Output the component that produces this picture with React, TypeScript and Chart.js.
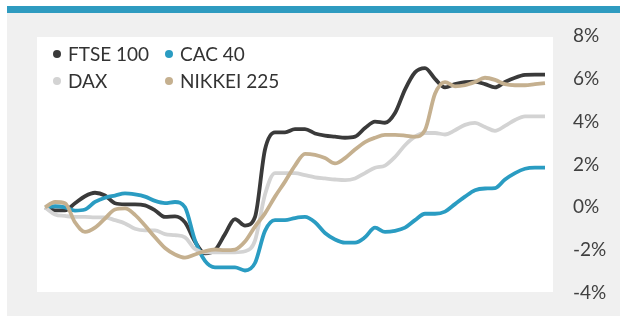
import React, { useEffect, useRef } from "react";
import { Chart, registerables } from "chart.js";

Chart.register(...registerables);

const categories = [
  "1", "2", "3", "4", "5", "6", "7", "8", "9", "10",
  "11", "12", "13", "14", "15", "16", "17", "18", "19", "20",
  "21", "22", "23", "24", "25", "26", "27", "28", "29", "30",
  "31", "32", "33", "34", "35", "36", "37", "38", "39", "40",
  "41", "42", "43", "44", "45", "46", "47", "48", "49", "50", "51",
];

const ftse = [
  0, -0.14, -0.14, 0.19, 0.52, 0.68, 0.55, 0.19, 0.14, 0.14,
  0.09, -0.14, -0.45, -0.42, -0.7, -1.6, -2.15, -2.0, -1.25, -0.55,
  -0.85, -0.45, 2.7, 3.5, 3.5, 3.65, 3.65, 3.45, 3.35, 3.3,
  3.25, 3.3, 3.7, 4.0, 3.95, 4.4, 5.5, 6.3, 6.5, 6.0,
  5.6, 5.75, 5.85, 5.87, 5.75, 5.6, 5.85, 6.05, 6.18, 6.2, 6.2,
];

const cac = [
  0, 0.05, 0.0, -0.15, -0.1, 0.25, 0.45, 0.55, 0.65, 0.6,
  0.5, 0.3, 0.2, 0.25, 0.0, -1.55, -2.5, -2.8, -2.8, -2.8,
  -2.95, -2.6, -1.1, -0.6, -0.6, -0.5, -0.45, -0.7, -1.2, -1.5,
  -1.65, -1.65, -1.4, -0.95, -1.15, -1.1, -0.95, -0.6, -0.3, -0.3,
  -0.2, 0.15, 0.5, 0.8, 0.88, 0.9, 1.3, 1.6, 1.8, 1.85, 1.85,
];

const dax = [
  0, -0.33, -0.4, -0.45, -0.45, -0.47, -0.47, -0.6, -0.75, -1.0,
  -1.08, -1.08, -1.25, -1.3, -1.4, -1.95, -2.1, -2.1, -2.1, -2.1,
  -2.05, -1.55, 0.6, 1.6, 1.6, 1.6, 1.5, 1.4, 1.35, 1.3,
  1.27, 1.35, 1.6, 1.85, 1.95, 2.35, 2.9, 3.3, 3.47, 3.47,
  3.4, 3.6, 3.85, 3.94, 3.75, 3.57, 3.8, 4.08, 4.25, 4.25, 4.25,
];

const nikkei = [
  0, 0.25, 0.19, -0.7, -1.15, -0.95, -0.52, -0.1, -0.05, -0.35,
  -0.85, -1.4, -1.9, -2.2, -2.35, -2.2, -2.05, -1.97, -2.0, -1.97,
  -1.6, -0.9, -0.28, 0.5, 1.2, 1.95, 2.5, 2.45, 2.3, 2.05,
  2.3, 2.7, 3.05, 3.25, 3.38, 3.38, 3.35, 3.3, 3.6, 5.3,
  5.85, 5.65, 5.7, 5.85, 6.05, 5.95, 5.75, 5.7, 5.7, 5.75, 5.8,
];

const seriesNames = ["FTSE 100", "CAC 40", "DAX", "NIKKEI 225"];
const seriesColors = ["#3a3a3a", "#2a9cc2", "#d3d3d3", "#c5b08f"];
const seriesData = [ftse, cac, dax, nikkei];

const yMin = -4;
const yMax = 8;
const yStep = 2;

const FONT = "Lato, 'Open Sans', sans-serif";

export default function App() {
  const canvasRef = useRef<HTMLCanvasElement | null>(null);

  useEffect(() => {
    const canvas = canvasRef.current;
    if (!canvas) return;
    const chart = new Chart(canvas, {
      type: "line",
      data: {
        labels: categories,
        datasets: seriesNames.map((name, i) => ({
          label: name,
          data: seriesData[i],
          borderColor: seriesColors[i],
          backgroundColor: seriesColors[i],
          borderWidth: 3.8,
          pointRadius: 0,
          pointHoverRadius: 0,
          cubicInterpolationMode: "monotone" as const,
          fill: false,
          order: seriesNames.length - i,
        })),
      },
      options: {
        responsive: false,
        animation: false,
        layout: { padding: { left: 45, top: 36, bottom: 23, right: 0 } },
        plugins: {
          legend: { display: false },
          tooltip: { enabled: false },
        },
        scales: {
          x: {
            display: false,
            offset: false,
          },
          y: {
            position: "right",
            min: yMin,
            max: yMax,
            grid: { display: false, drawTicks: true, tickLength: 28 },
            border: { display: false },
            afterFit: (scale: any) => {
              scale.width = 75;
            },
            ticks: {
              stepSize: yStep,
              padding: 0,
              color: "#404040",
              font: { family: FONT, size: 19 },
              callback: (v: any) => `${v}%`,
            },
          },
        },
      },
    });
    return () => chart.destroy();
  }, []);

  return (
    <div
      style={{
        position: "absolute",
        left: 0,
        top: 0,
        width: 620,
        height: 316,
        background: "#ffffff",
        overflow: "hidden",
        fontFamily: FONT,
      }}
    >
      <div
        style={{
          position: "absolute",
          left: 7,
          top: 13,
          width: 613,
          height: 303,
          background: "#f0f0f0",
        }}
      />
      <div
        style={{
          position: "absolute",
          left: 7,
          top: 6,
          width: 613,
          height: 7,
          background: "#2e9bc0",
        }}
      />
      <div
        style={{
          position: "absolute",
          left: 37,
          top: 37,
          width: 516,
          height: 255,
          background: "#ffffff",
        }}
      />
      <canvas
        ref={canvasRef}
        width={620}
        height={316}
        style={{ position: "absolute", left: 0, top: 0, width: 620, height: 316 }}
      />
      <div
        style={{
          position: "absolute",
          left: 53,
          top: 40,
          display: "grid",
          gridTemplateColumns: "112px auto",
          gridAutoRows: "27px",
        }}
      >
        {seriesNames.map((name, i) => (
          <div
            key={name}
            style={{ display: "flex", alignItems: "center", height: 27 }}
          >
            <span
              style={{
                display: "inline-block",
                width: 8,
                height: 8,
                borderRadius: "50%",
                background: seriesColors[i],
                marginRight: 7,
              }}
            />
            <span style={{ fontSize: 19, color: "#333333", whiteSpace: "nowrap" }}>
              {name}
            </span>
          </div>
        ))}
      </div>
    </div>
  );
}
